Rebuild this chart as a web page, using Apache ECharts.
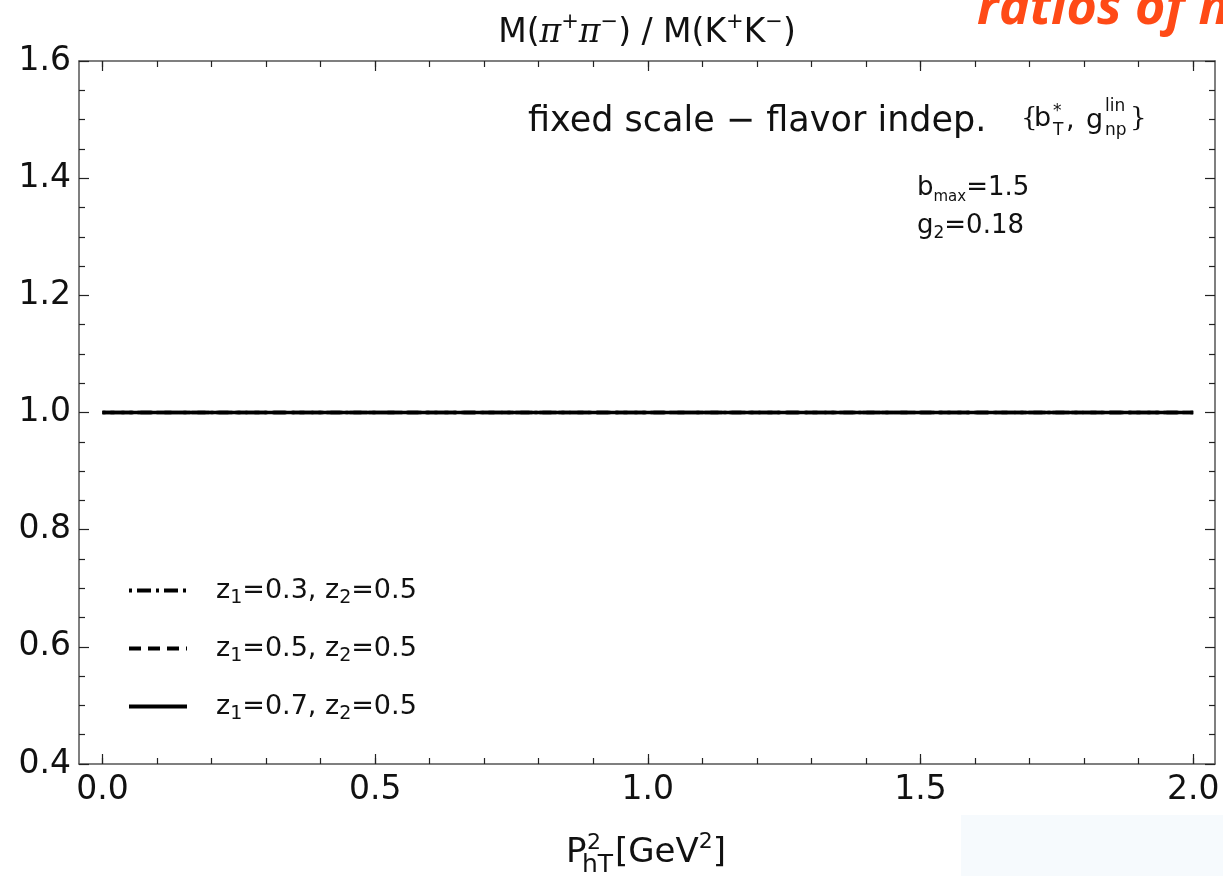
<!DOCTYPE html>
<html>
<head>
<meta charset="utf-8">
<title>M(pi+pi-) / M(K+K-)</title>
<script src="https://cdn.jsdelivr.net/npm/echarts@6/dist/echarts.min.js"></script>
<style>
  html, body { margin: 0; padding: 0; background: #fff; }
  #chart { width: 1223px; height: 876px; }
</style>
</head>
<body>
<div id="chart"></div>
<script>
  // values: all three ratios sit flat on 1.0
  var xVals = [0.0, 0.5, 1.0, 1.5, 2.0];
  var ratioZ03 = [1.0, 1.0, 1.0, 1.0, 1.0];
  var ratioZ05 = [1.0, 1.0, 1.0, 1.0, 1.0];
  var ratioZ07 = [1.0, 1.0, 1.0, 1.0, 1.0];
  var seriesNames = ['z1=0.3, z2=0.5', 'z1=0.5, z2=0.5', 'z1=0.7, z2=0.5'];

  // tick positions
  var xMajorTicks = [0.0, 0.5, 1.0, 1.5, 2.0];
  var xMinorTicks = [0.0, 0.1, 0.2, 0.3, 0.4, 0.5, 0.6, 0.7, 0.8, 0.9, 1.0,
                     1.1, 1.2, 1.3, 1.4, 1.5, 1.6, 1.7, 1.8, 1.9, 2.0];
  var yMin = 0.4, yMax = 1.6, yStep = 0.2;
  var xMin = -0.043, xMax = 2.04;

  var FONT = 'DejaVu Sans';
  var axisColor = '#555';

  function pairs(xs, ys) {
    var out = [];
    for (var i = 0; i < xs.length; i++) out.push([xs[i], ys[i]]);
    return out;
  }
  // 'z1=0.3' -> z with subscript 1
  function subFmt(name) {
    return '{t|' + name.replace(/z(\d)/g, 'z}{s|$1}{t|') + '}';
  }

  function xAxisDef(pos, ticks, len, showLine, showLabel) {
    return {
      type: 'value', position: pos, min: xMin, max: xMax,
      axisLine: { show: showLine, onZero: false, lineStyle: { color: axisColor, width: 1.5 } },
      axisTick: { show: true, inside: true, length: len, customValues: ticks,
                  lineStyle: { color: '#222', width: 1.2 } },
      axisLabel: { show: showLabel, customValues: xMajorTicks, margin: 10,
                   fontFamily: FONT, fontSize: 33, color: '#111',
                   formatter: function (v) { return v.toFixed(1); } },
      splitLine: { show: false }
    };
  }
  function yAxisDef(pos, showLabel) {
    return {
      type: 'value', position: pos, min: yMin, max: yMax, interval: yStep,
      axisLine: { show: true, onZero: false, lineStyle: { color: axisColor, width: 1.5 } },
      axisTick: { show: true, inside: true, length: 10, lineStyle: { color: '#222', width: 1.2 } },
      minorTick: { show: true, splitNumber: 4, length: 6, lineStyle: { color: '#222', width: 1.2 } },
      axisLabel: { show: showLabel, margin: 8, fontFamily: FONT, fontSize: 33, color: '#111',
                   formatter: function (v) { return v.toFixed(1); } },
      splitLine: { show: false },
      minorSplitLine: { show: false }
    };
  }

  function txt(x, y, text, size, opts) {
    opts = opts || {};
    return {
      type: 'text', x: x, y: y, z: 10,
      style: {
        text: text, x: 0, y: 0,
        fill: opts.color || '#111',
        font: (opts.style || '') + ' ' + size + 'px "' + (opts.family || FONT) + '"',
        align: opts.align || 'left', verticalAlign: 'middle',
        rich: opts.rich
      }
    };
  }

  var supRich = function (base, small) {
    return {
      t: { fontFamily: FONT, fontSize: base, lineHeight: Math.round(base * 1.25), color: '#111' },
      p: { fontFamily: 'DejaVu Serif', fontStyle: 'italic', fontSize: base, lineHeight: Math.round(base * 1.25), color: '#111' },
      u: { fontFamily: FONT, fontSize: small, lineHeight: small, verticalAlign: 'top', color: '#111' },
      s: { fontFamily: FONT, fontSize: small, lineHeight: small, verticalAlign: 'bottom', color: '#111' }
    };
  };

  var chart = echarts.init(document.getElementById('chart'));
  chart.setOption({
    animation: false,
    backgroundColor: '#fff',
    grid: { left: 79, top: 61, right: 8, bottom: 112, containLabel: false },
    xAxis: [
      xAxisDef('bottom', xMajorTicks, 10, true, true),
      xAxisDef('bottom', xMinorTicks, 6, false, false),
      xAxisDef('top', xMajorTicks, 10, true, false),
      xAxisDef('top', xMinorTicks, 6, false, false)
    ],
    yAxis: [yAxisDef('left', true), yAxisDef('right', false)],
    legend: {
      orient: 'vertical', left: 122, top: 572,
      itemWidth: 58, itemHeight: 14, itemGap: 27.5,
      selectedMode: false,
      data: seriesNames,
      formatter: subFmt,
      itemStyle: { opacity: 0 },
      lineStyle: { width: 4, color: '#000' },
      textStyle: {
        padding: [0, 0, 0, 24],
        rich: {
          t: { fontFamily: FONT, fontSize: 27, lineHeight: 34, color: '#111' },
          s: { fontFamily: FONT, fontSize: 19, lineHeight: 16, verticalAlign: 'bottom', color: '#111' }
        }
      }
    },
    series: [
      { name: seriesNames[0], type: 'line', symbol: 'none', xAxisIndex: 0, yAxisIndex: 0,
        itemStyle: { color: '#000' },
        lineStyle: { color: '#000', width: 3.5, type: [3, 5, 14, 5] }, data: pairs(xVals, ratioZ03) },
      { name: seriesNames[1], type: 'line', symbol: 'none', xAxisIndex: 0, yAxisIndex: 0,
        itemStyle: { color: '#000' },
        lineStyle: { color: '#000', width: 3.5, type: [12, 7] }, data: pairs(xVals, ratioZ05) },
      { name: seriesNames[2], type: 'line', symbol: 'none', xAxisIndex: 0, yAxisIndex: 0,
        itemStyle: { color: '#000' },
        lineStyle: { color: '#000', width: 3.5, type: 'solid' }, data: pairs(xVals, ratioZ07) }
    ],
    graphic: [
      // faint panel in the lower right corner
      { type: 'rect', shape: { x: 961, y: 815, width: 262, height: 61 }, z: 0,
        style: { fill: '#F6FAFD' } },
      // slide heading, cut by the right edge
      txt(977, 9, 'ratios of m', 52, { color: '#FF4A16', family: 'Open Sans', style: 'italic bold' }),
      // plot title
      txt(647, 33, '{t|M(}{p|π}{u|+}{p|π}{u|−}{t|) / M(K}{u|+}{t|K}{u|−}{t|)}', 33,
          { align: 'center', rich: supRich(33, 21) }),
      // annotations
      txt(528, 122, 'fixed scale − flavor indep.', 35),
      txt(1021, 119, '{', 26, { family: 'DejaVu Serif' }),
      txt(1034, 119, 'b', 27),
      txt(1053, 112, '*', 17),
      txt(1053, 131, 'T', 17),
      txt(1066, 121, ',', 27),
      txt(1086, 121, 'g', 27),
      txt(1105, 107, 'lin', 17),
      txt(1105, 131, 'np', 17),
      txt(1130, 119, '}', 26, { family: 'DejaVu Serif' }),
      txt(917, 188, '{t|b}{s|max}{t|=1.5}', 26, { rich: supRich(26, 15) }),
      txt(917, 226, '{t|g}{s|2}{t|=0.18}', 26, { rich: supRich(26, 17) }),
      // x axis title
      txt(566, 853, 'P', 34),
      txt(587, 843, '2', 22),
      txt(582, 865, 'hT', 25),
      txt(615, 853, '{t|[GeV}{u|2}{t|]}', 34, { rich: supRich(34, 22) })
    ]
  });
</script>
</body>
</html>
